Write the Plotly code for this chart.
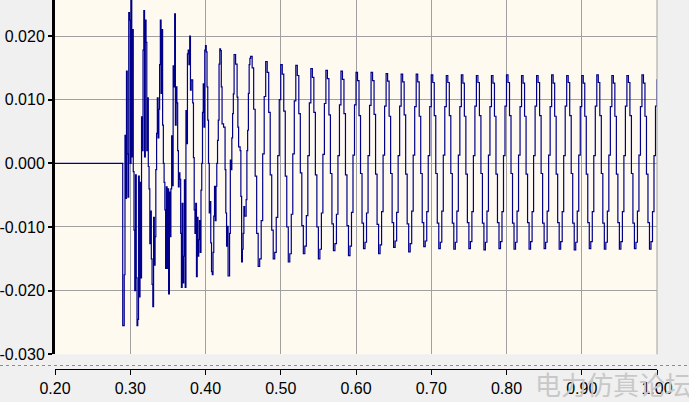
import numpy as np
import plotly.graph_objects as go

# ---------------- data ----------------
t_start = 0.20          # start of record shown
t_fault = 0.29          # instant the disturbance begins
dt_fast = 0.001         # sample step used for the transient part
t_steady = 0.46         # start of the quasi-steady part
dt_slow = 0.002         # sample step used for the steady part

pre_values = [0.0]

transient_values = [
    -0.0255, -0.0255, -0.0175, 0.0044, -0.0055, 0.0145, 0.0015, -0.0053, 0.0237, 0.0225,
    0.0000, 0.0257, 0.0010, 0.0210, -0.0013, -0.0105, -0.0200, -0.0018, -0.0180, -0.0255,
    -0.0245, -0.0020, -0.0210, -0.0030, -0.0180, 0.0073, 0.0020, 0.0178, 0.0240, 0.0010,
    0.0225, 0.0190, 0.0020, 0.0103, -0.0005, -0.0040, -0.0126, -0.0075, -0.0150, -0.0190,
    -0.0225, -0.0085, -0.0160, -0.0115, -0.0010, 0.0047, 0.0103, 0.0040, 0.0085, 0.0155,
    0.0225, 0.0110, 0.0210, 0.0060, 0.0000, -0.0030, -0.0073, -0.0165, -0.0037, -0.0165,
    -0.0040, -0.0205, -0.0045, -0.0115, -0.0040, 0.0043, -0.0035, 0.0153, 0.0120, 0.0235,
    0.0060, 0.0120, 0.0095, 0.0020, -0.0037, -0.0015, -0.0025, -0.0110, -0.0195, -0.0063,
    -0.0188, -0.0146, -0.0026, -0.0195, 0.0083, 0.0031, 0.0172, 0.0178, 0.0155, 0.0200,
    0.0115, 0.0131, 0.0131, 0.0095, 0.0009, -0.0073, -0.0110, -0.0063, -0.0178, -0.0085,
    -0.0146, -0.0120, -0.0090, -0.0140, -0.0042, 0.0000, 0.0080, 0.0125, 0.0057, 0.0178,
    0.0185, 0.0175, 0.0120, 0.0068, 0.0000, -0.0078, -0.0060, -0.0125, -0.0170, -0.0175,
    -0.0140, -0.0083, -0.0036, -0.0090, -0.0036, 0.0000, 0.0036, 0.0068, 0.0156, 0.0180,
    0.0177, 0.0120, 0.0062, 0.0062, 0.0057, 0.0057, -0.0010, -0.0078, -0.0130, -0.0099,
    -0.0177, -0.0177, -0.0110, 0.0005, -0.0010, 0.0040, 0.0078, 0.0109, 0.0171, 0.0171,
    0.0156, 0.0156, 0.0104, 0.0057, 0.0026, 0.0026, 0.0020, -0.0052, -0.0155, -0.0135,
    -0.0110, -0.0068, -0.0083, -0.0083, -0.0057, 0.0020, 0.0052, 0.0110, 0.0155, 0.0165,
]

steady_values = [
    0.0168, 0.0150, 0.0085, -0.0020, -0.0110, -0.0162, -0.0150, -0.0090, 0.0015, 0.0105,
    0.0160, 0.0143, 0.0080, -0.0018, -0.0105, -0.0150, -0.0140, -0.0085, 0.0012, 0.0100,
    0.0155, 0.0140, 0.0082, -0.0020, -0.0100, -0.0155, -0.0142, -0.0080, 0.0015, 0.0098,
    0.0154, 0.0138, 0.0078, -0.0015, -0.0098, -0.0142, -0.0130, -0.0082, 0.0012, 0.0095,
    0.0149, 0.0135, 0.0080, -0.0018, -0.0100, -0.0150, -0.0135, -0.0078, 0.0014, 0.0094,
    0.0146, 0.0133, 0.0076, -0.0016, -0.0095, -0.0137, -0.0126, -0.0080, 0.0012, 0.0092,
    0.0145, 0.0132, 0.0078, -0.0018, -0.0098, -0.0145, -0.0130, -0.0077, 0.0013, 0.0092,
    0.0143, 0.0130, 0.0075, -0.0016, -0.0094, -0.0134, -0.0124, -0.0078, 0.0012, 0.0091,
    0.0143, 0.0130, 0.0077, -0.0017, -0.0096, -0.0142, -0.0128, -0.0076, 0.0013, 0.0090,
    0.0141, 0.0129, 0.0074, -0.0016, -0.0093, -0.0132, -0.0122, -0.0077, 0.0012, 0.0090,
    0.0140, 0.0128, 0.0076, -0.0017, -0.0095, -0.0139, -0.0126, -0.0075, 0.0013, 0.0089,
    0.0140, 0.0128, 0.0074, -0.0016, -0.0093, -0.0131, -0.0122, -0.0076, 0.0012, 0.0089,
    0.0139, 0.0127, 0.0075, -0.0016, -0.0094, -0.0134, -0.0124, -0.0075, 0.0013, 0.0089,
    0.0138, 0.0127, 0.0075, -0.0016, -0.0094, -0.0135, -0.0124, -0.0075, 0.0013, 0.0089,
    0.0139, 0.0126, 0.0074, -0.0017, -0.0093, -0.0134, -0.0123, -0.0076, 0.0012, 0.0090,
    0.0138, 0.0127, 0.0075, -0.0016, -0.0094, -0.0136, -0.0124, -0.0075, 0.0013, 0.0089,
    0.0138, 0.0126, 0.0074, -0.0017, -0.0093, -0.0134, -0.0123, -0.0076, 0.0012, 0.0090,
    0.0139, 0.0127, 0.0075, -0.0016, -0.0094, -0.0135, -0.0124, -0.0075, 0.0013, 0.0089,
    0.0138, 0.0126, 0.0074, -0.0017, -0.0093, -0.0135, -0.0123, -0.0076, 0.0012, 0.0090,
    0.0138, 0.0127, 0.0075, -0.0016, -0.0094, -0.0134, -0.0124, -0.0075, 0.0013, 0.0089,
    0.0139, 0.0126, 0.0074, -0.0017, -0.0093, -0.0135, -0.0123, -0.0076, 0.0012, 0.0090,
    0.0138, 0.0127, 0.0075, -0.0016, -0.0094, -0.0136, -0.0124, -0.0075, 0.0013, 0.0089,
    0.0138, 0.0126, 0.0074, -0.0017, -0.0093, -0.0134, -0.0123, -0.0076, 0.0012, 0.0090,
    0.0139, 0.0127, 0.0075, -0.0016, -0.0094, -0.0135, -0.0124, -0.0075, 0.0013, 0.0089,
    0.0138, 0.0126, 0.0074, -0.0017, -0.0093, -0.0135, -0.0123, -0.0076, 0.0012, 0.0090,
    0.0138, 0.0127, 0.0075, -0.0016, -0.0094, -0.0134, -0.0124, -0.0075, 0.0013, 0.0089,
    0.0139, 0.0126, 0.0074, -0.0017, -0.0093, -0.0135, -0.0123, -0.0076, 0.0012, 0.0090,
    0.0132,
]

x_tick_vals = [0.20, 0.30, 0.40, 0.50, 0.60, 0.70, 0.80, 0.90, 1.00]
x_tick_text = ["0.20", "0.30", "0.40", "0.50", "0.60", "0.70", "0.80", "0.90", "1.00"]
y_tick_vals = [0.020, 0.010, 0.000, -0.010, -0.020, -0.030]
y_tick_text = ["0.020", "0.010", "0.000", "-0.010", "-0.020", "-0.030"]
watermark = "电力仿真论坛"

# ---------------- build time base ----------------
t_pre = np.array([t_start])
t_tr = t_fault + np.arange(len(transient_values)) * dt_fast
t_st = t_steady + np.arange(len(steady_values)) * dt_slow
t = np.concatenate([t_pre, t_tr, t_st])
v = np.concatenate([pre_values, transient_values, steady_values])

# ---------------- figure ----------------
W, H = 689, 402
ml, mr = 55, 32
plot_w = W - ml - mr
y_bottom_px = 354.3
xaxis_px = 368.5
dash_px = 365.5

fig = go.Figure()
fig.add_trace(go.Scatter(
    x=t, y=v, mode="lines", line=dict(color="#00008B", width=1.2, shape="hv"),
    hoverinfo="skip", showlegend=False,
))
# invisible trace so the lower time axis is drawn
fig.add_trace(go.Scatter(x=[x_tick_vals[0]], y=[0], xaxis="x2", yaxis="y",
                         mode="markers", marker=dict(opacity=0), showlegend=False,
                         hoverinfo="skip"))

font_family = "Liberation Sans, Arial, sans-serif"

fig.update_layout(
    width=W, height=H,
    margin=dict(l=ml, r=mr, t=0, b=0, autoexpand=False),
    paper_bgcolor="#F0F0F0",
    plot_bgcolor="#FFFAF0",
    xaxis=dict(
        range=[0.2, 1.0], tickvals=x_tick_vals, showticklabels=False,
        showgrid=True, gridcolor="#A0A0A0", gridwidth=1, zeroline=False,
        showline=False, ticks="", anchor="y", automargin=False,
    ),
    xaxis2=dict(
        range=[0.2, 1.0], overlaying="x", anchor="free",
        position=(H - xaxis_px) / H,
        tickvals=x_tick_vals, ticktext=x_tick_text,
        showgrid=False, zeroline=False, showline=True, linecolor="#000000",
        linewidth=1, ticks="outside", ticklen=5, tickwidth=1, tickcolor="#000000",
        tickfont=dict(family=font_family, size=16, color="#000000"),
        automargin=False,
    ),
    yaxis=dict(
        domain=[(H - y_bottom_px) / H, 1.0],
        range=[-0.030, 0.02566],
        tickvals=y_tick_vals, ticktext=y_tick_text,
        showgrid=True, gridcolor="#A0A0A0", gridwidth=1, zeroline=False,
        showline=True, linecolor="#000000", linewidth=3,
        ticks="outside", ticklen=4, tickwidth=2, tickcolor="#000000",
        tickfont=dict(family=font_family, size=16, color="#000000"),
        automargin=False,
    ),
    shapes=[
        dict(type="line", xref="paper", yref="paper",
             x0=-ml / plot_w, x1=(W - ml) / plot_w,
             y0=(H - dash_px) / H, y1=(H - dash_px) / H,
             line=dict(color="#8C8C8C", width=1, dash="dot")),
        dict(type="line", xref="paper", yref="paper",
             x0=1.0, x1=1.0, y0=(H - y_bottom_px) / H, y1=1.0,
             line=dict(color="#A0A0A0", width=1)),
    ],
    annotations=[
        dict(text=watermark, xref="paper", yref="paper",
             x=(W - ml + 4) / plot_w, y=(H - 383) / H,
             xanchor="right", yanchor="middle", showarrow=False,
             font=dict(family="Noto Sans CJK SC", size=26, color="#C8C8C8")),
    ],
)

fig.write_html("out.html", config={"displayModeBar": False},
               post_script="document.body.style.margin='0px';")
